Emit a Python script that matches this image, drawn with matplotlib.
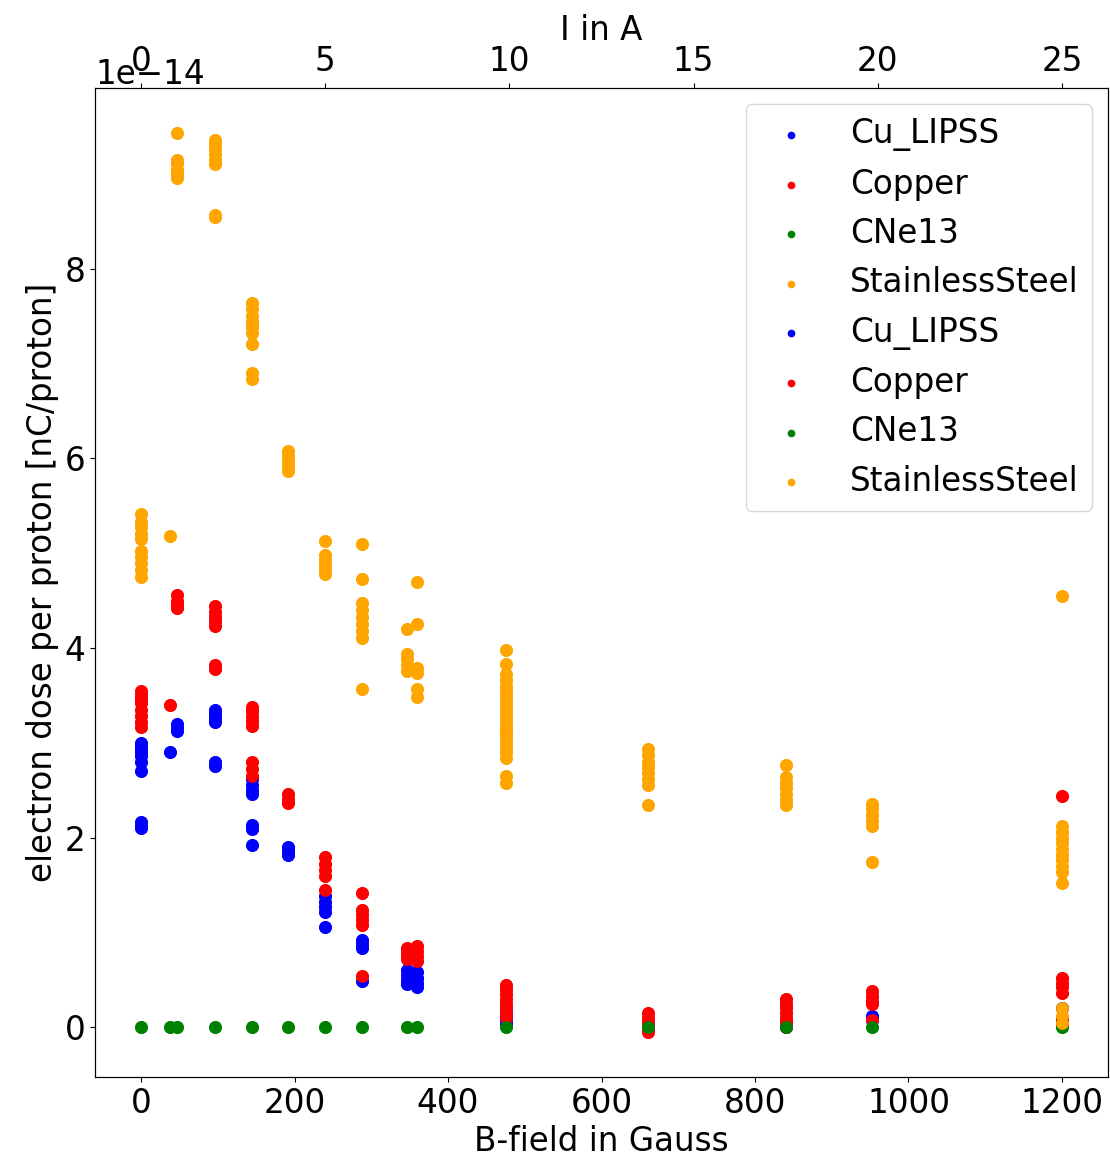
import matplotlib
matplotlib.use("Agg")
import matplotlib.pyplot as plt
import numpy as np

# B-field positions (Gauss) at which measurements were taken
B_gauss = [0, 38, 47, 96, 144, 192, 240, 288, 347, 359, 476, 660, 840, 952, 1200]
gauss_per_amp = 48.0  # I in A = B / 48

# electron dose per proton, in units of 1e-14 nC/proton, grouped per B value
cu_lipss = [
    [3.0, 2.97, 2.93, 2.9, 2.86, 2.8, 2.7, 2.16, 2.12, 2.1],
    [2.9],
    [3.2, 3.16, 3.12],
    [3.35, 3.3, 3.26, 3.22, 2.8, 2.75],
    [2.62, 2.56, 2.5, 2.46, 2.13, 2.09, 1.92],
    [1.9, 1.86, 1.82],
    [1.38, 1.32, 1.27, 1.22, 1.06],
    [0.92, 0.88, 0.84, 0.49],
    [0.6, 0.55, 0.5, 0.46],
    [0.58, 0.52, 0.47, 0.42],
    [0.15, 0.1, 0.05],
    [0.05, 0.0],
    [0.05, 0.0],
    [0.12, 0.08],
    [0.2, 0.1],
]
copper = [
    [3.55, 3.5, 3.46, 3.42, 3.35, 3.28, 3.22, 3.17],
    [3.4],
    [4.56, 4.5, 4.46, 4.42],
    [4.44, 4.38, 4.33, 4.28, 4.23, 3.82, 3.78],
    [3.38, 3.33, 3.28, 3.23, 3.18, 2.8, 2.72, 2.65],
    [2.46, 2.41, 2.36],
    [1.8, 1.72, 1.66, 1.6, 1.45],
    [1.42, 1.24, 1.18, 1.13, 1.08, 0.54],
    [0.84, 0.8, 0.76, 0.72],
    [0.86, 0.8, 0.75, 0.7],
    [0.45, 0.4, 0.35, 0.3, 0.25, 0.2, 0.15, 0.1],
    [0.15, 0.1, 0.05, 0.0, -0.05],
    [0.3, 0.25, 0.2, 0.15, 0.1, 0.05, 0.0],
    [0.38, 0.33, 0.28, 0.25, 0.08],
    [2.44, 0.52, 0.47, 0.42, 0.36, 0.1, 0.03],
]
cne13 = [[0.0] for _ in B_gauss]
stainless = [
    [5.41, 5.33, 5.27, 5.2, 5.15, 5.02, 4.96, 4.9, 4.82, 4.75],
    [5.18],
    [9.43, 9.14, 9.1, 9.04, 9.0, 8.96],
    [9.36, 9.31, 9.26, 9.21, 9.15, 9.1, 8.57, 8.54],
    [7.64, 7.57, 7.5, 7.44, 7.38, 7.32, 7.21, 6.9, 6.84],
    [6.08, 6.02, 5.97, 5.92, 5.87],
    [5.13, 4.98, 4.93, 4.88, 4.83, 4.78],
    [5.1, 4.73, 4.47, 4.4, 4.33, 4.25, 4.18, 4.1, 3.57],
    [4.2, 3.94, 3.88, 3.82, 3.76],
    [4.7, 4.25, 3.79, 3.74, 3.57, 3.48],
    [3.98, 3.83, 3.72, 3.66, 3.6, 3.55, 3.5, 3.45, 3.4, 3.35, 3.3, 3.25, 3.2,
     3.15, 3.1, 3.05, 3.0, 2.95, 2.9, 2.84, 2.65, 2.58],
    [2.93, 2.87, 2.8, 2.74, 2.68, 2.62, 2.56, 2.34],
    [2.77, 2.64, 2.58, 2.52, 2.46, 2.4, 2.34],
    [2.35, 2.3, 2.24, 2.18, 2.12, 1.74],
    [4.55, 2.12, 2.06, 2.0, 1.94, 1.88, 1.82, 1.76, 1.7, 1.64, 1.52, 0.2, 0.12, 0.05],
]

materials = ["Cu_LIPSS", "Copper", "CNe13", "StainlessSteel"]
series = [cu_lipss, copper, cne13, stainless]
colors = ["blue", "red", "green", "orange"]
scale = 1e-14

plt.rcParams['font.size'] = 23.5

fig = plt.figure(figsize=(11.1, 11.6), dpi=100)
ax = fig.add_axes([95/1110, 1 - 1077/1160, (1108-95)/1110, (1077-88)/1160])
ax2 = ax.twiny()

def flatten(groups):
    xs, ys = [], []
    for b, grp in zip(B_gauss, groups):
        for v in grp:
            xs.append(b)
            ys.append(v * scale)
    return np.array(xs, float), np.array(ys, float)

for name, grp, c in zip(materials, series, colors):
    x, y = flatten(grp)
    ax.scatter(x, y, s=85, color=c, label=name, linewidths=0)
for name, grp, c in zip(materials, series, colors):
    x, y = flatten(grp)
    ax2.scatter(x / gauss_per_amp, y, s=85, color=c, label=name, linewidths=0)

ax.set_xlabel("B-field in Gauss")
ax.set_ylabel("electron dose per proton [nC/proton]")
ax2.set_xlabel("I in A")

h1, l1 = ax.get_legend_handles_labels()
h2, l2 = ax2.get_legend_handles_labels()
ax2.legend(h1 + h2, l1 + l2, loc="upper right", markerscale=0.6, labelspacing=0.5)

fig.savefig("out.png", dpi=100)
